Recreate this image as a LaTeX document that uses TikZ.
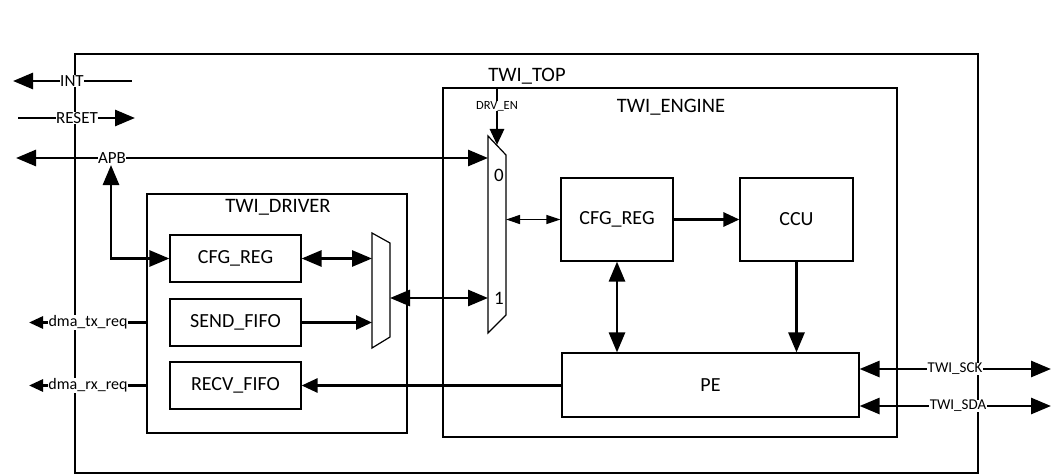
\documentclass[tikz,border=0pt]{standalone}
\usepackage{fontspec}
\setmainfont{Carlito}
\usetikzlibrary{arrows.meta}
\begin{document}
\begin{tikzpicture}[x=1pt,y=-1pt,
  frame/.style={draw,line width=1.2pt,inner sep=0pt},
  blk/.style={frame,font=\fontsize{20}{24}\selectfont},
  ghost/.style={inner sep=0pt,outer sep=0pt},
  title/.style={font=\fontsize{20.5}{24}\selectfont},
  lbl/.style={fill=white,inner sep=0.5pt,font=\fontsize{17}{20}\selectfont},
  smalllbl/.style={fill=white,inner sep=0.5pt,font=\fontsize{12.5}{15}\selectfont},
  dmalbl/.style={fill=white,inner sep=0.5pt,font=\fontsize{16}{19}\selectfont},
  buslbl/.style={fill=white,inner sep=0.5pt,font=\fontsize{15}{18}\selectfont},
  wire/.style={line width=2.8pt},
  bigtip/.style={wire,arrows={-Triangle[length=20pt,width=16pt]}},
  bigtips/.style={wire,arrows={Triangle[length=20pt,width=16pt]-Triangle[length=20pt,width=16pt]}},
  bigtipl/.style={wire,arrows={Triangle[length=20pt,width=16pt]-}},
  midtip/.style={wire,arrows={-Triangle[length=16pt,width=14pt]}},
  midtips/.style={wire,arrows={Triangle[length=16pt,width=14pt]-Triangle[length=16pt,width=14pt]}},
  smalltipl/.style={wire,arrows={Triangle[length=14pt,width=12pt]-}},
  thintips/.style={line width=1.3pt,arrows={Triangle[length=14pt,width=9pt]-Triangle[length=14pt,width=9pt]}}
]
\useasboundingbox (0,0) rectangle (1052,476);
\fill[white] (0,0) rectangle (1052,476);

% containers
\node[frame,minimum width=903pt,minimum height=419pt] (top) at (526.5,263.5) {};
\node[frame,minimum width=454pt,minimum height=349pt] (eng) at (670,262.5) {};
\node[frame,minimum width=260pt,minimum height=239pt] (drv) at (277,313.5) {};

\node[title] (toplbl) at (527,76) {TWI\_TOP};
\node[title] (englbl) at (671,107) {TWI\_ENGINE};
\node[title] (drvlbl) at (278,207) {TWI\_DRIVER};

% driver blocks
\node[blk,minimum width=131pt,minimum height=47pt] (dcfg) at (235.5,258.5) {CFG\_REG};
\node[blk,minimum width=131pt,minimum height=47pt] (send) at (235.5,322.5) {SEND\_FIFO};
\node[blk,minimum width=131pt,minimum height=47pt] (recv) at (235.5,385.5) {RECV\_FIFO};

% driver mux
\node[ghost,minimum width=18pt,minimum height=115pt] (dmux) at (381,290.5) {};
\draw[line width=1.2pt] (dmux.north west) -- ([yshift=-10pt]dmux.north east)
  -- ([yshift=11pt]dmux.south east) -- (dmux.south west) -- cycle;

% engine mux
\node[ghost,minimum width=18pt,minimum height=197pt] (emux) at (497,234.5) {};
\draw[line width=1.2pt] (emux.north west) -- ([yshift=-19pt]emux.north east)
  -- ([yshift=18pt]emux.south east) -- (emux.south west) -- cycle;
\node[font=\fontsize{19}{22}\selectfont] (m0) at (499,175) {0};
\node[font=\fontsize{19}{22}\selectfont] (m1) at (499,298) {1};
\coordinate (drvtip) at (497,145);

% engine blocks
\node[blk,minimum width=112pt,minimum height=83pt] (ecfg) at (617,219.5) {CFG\_REG};
\node[blk,minimum width=113pt,minimum height=83pt] (ccu) at (796.5,219.5) {CCU};
\node[blk,minimum width=297pt,minimum height=64pt] (pe) at (710.5,385) {PE};

% external end points
\coordinate (intL) at (13,81);
\coordinate (intR) at (132,81);
\coordinate (rstL) at (18,118);
\coordinate (rstR) at (135,118);
\coordinate (apbL) at (16,158);
\coordinate (apbB) at (111,165);
\coordinate (txL) at (29,322.5);
\coordinate (rxL) at (29,385.5);
\coordinate (sckR) at (1051,369);
\coordinate (sdaR) at (1051,406);

% connectors
\draw[bigtipl] (intL) -- (intR);
\draw[bigtip] (rstL) -- (rstR);
\draw[bigtips] (apbL) -- (emux.west |- apbL);
\draw[bigtips] (apbB) |- (dcfg.west);
\draw[midtip] (eng.north -| drvtip) -- (drvtip);
\draw[bigtips] (dcfg.east) -- (dcfg.east -| dmux.west);
\draw[midtip] (send.east) -- (send.east -| dmux.west);
\draw[bigtips] (dmux.east |- m1) -- (emux.west |- m1);
\draw[midtip] (pe.west |- recv.east) -- (recv.east);
\draw[smalltipl] (txL) -- (drv.west |- send.east);
\draw[smalltipl] (rxL) -- (drv.west |- recv.east);
\draw[thintips] (emux.east |- ecfg.west) -- (ecfg.west);
\draw[midtip] (ecfg.east) -- (ccu.west);
\draw[bigtips] (ecfg.south) -- (ecfg.south |- pe.north);
\draw[bigtip] (ccu.south) -- (ccu.south |- pe.north);
\draw[bigtips] (pe.east |- sckR) -- (sckR);
\draw[bigtips] (pe.east |- sdaR) -- (sdaR);

% labels on wires
\node[lbl] (intlbl) at (72,81) {INT};
\node[lbl] (rstlbl) at (77,118) {RESET};
\node[lbl] (apblbl) at (112,158) {APB};
\node[smalllbl] (drvenlbl) at (497,106) {DRV\_EN};
\node[dmalbl] (txlbl) at (88,322.5) {dma\_tx\_req};
\node[dmalbl] (rxlbl) at (88,385.5) {dma\_rx\_req};
\node[buslbl] (scklbl) at (955,369) {TWI\_SCK};
\node[buslbl] (sdalbl) at (958,406) {TWI\_SDA};
\end{tikzpicture}
\end{document}
